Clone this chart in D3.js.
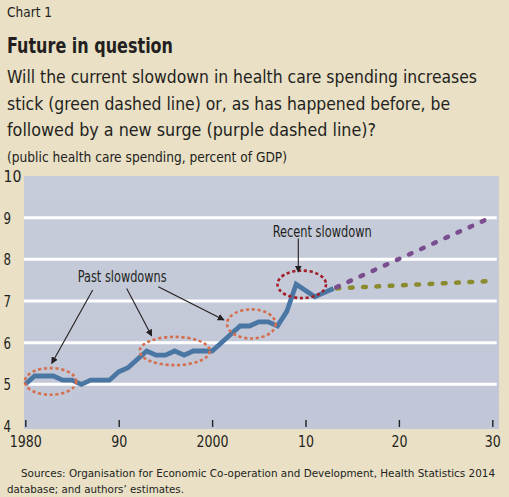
<!DOCTYPE html>
<html>
<head>
<meta charset="utf-8">
<script src="https://cdn.jsdelivr.net/npm/d3@7"></script>
<style>
html,body{margin:0;padding:0;background:#e9e0c6;}
svg{display:block;}
text{font-family:"DejaVu Sans Condensed","DejaVu Sans",sans-serif;font-stretch:condensed;fill:#231f20;}
</style>
</head>
<body>
<svg id="chart" width="509" height="497"></svg>
<script>
// ---- data ----
const years = [1980,1981,1982,1983,1984,1985,1986,1987,1988,1989,1990,1991,1992,1993,1994,1995,1996,1997,1998,1999,2000,2001,2002,2003,2004,2005,2006,2007,2008,2009,2010,2011,2012,2013];
const spending = [5.0,5.2,5.2,5.2,5.1,5.1,5.0,5.1,5.1,5.1,5.3,5.4,5.6,5.8,5.7,5.7,5.8,5.7,5.8,5.8,5.8,6.0,6.2,6.4,6.4,6.5,6.5,6.4,6.75,7.4,7.25,7.1,7.2,7.3];
const projYears = [2013, 2030];
const surge = [7.3, 9.02];
const stick = [7.3, 7.48];
const xTicks = [1980,1990,2000,2010,2020,2030];
const xTickLabels = ["1980","90","2000","10","20","30"];
const yTicks = [4,5,6,7,8,9,10];
// slowdown ellipses: center year, center value, half-width (years), half-height (value units)
const pastEllipses = [
  {cx:1982.7, cy:5.07, rx:2.75, ry:0.32},
  {cx:1996.0, cy:5.8, rx:3.75, ry:0.34},
  {cx:2004.2, cy:6.45, rx:2.6, ry:0.35}
];
const recentEllipse = {cx:2009.6, cy:7.4, rx:2.6, ry:0.33};

const svg = d3.select("#chart");

// text helper: squeeze/stretch to the reference width
function txt(x0, y0, str, size, width, opts={}) {
  const t = svg.append("text").attr("x",x0).attr("y",y0).attr("font-size",size).text(str);
  if (opts.bold) t.attr("font-weight","bold");
  if (opts.anchor) t.attr("text-anchor",opts.anchor);
  if (width) t.attr("textLength",width).attr("lengthAdjust","spacingAndGlyphs");
  return t;
}

// titles
txt(7,17,"Chart 1",14.5,45);
txt(7,52.5,"Future in question",21,166,{bold:true});
const sub = ["Will the current slowdown in health care spending increases",
             "stick (green dashed line) or, as has happened before, be",
             "followed by a new surge (purple dashed line)?"];
const subW = [470,443,369];
sub.forEach((s,i)=>txt(7,83.3+i*26.2,s,17.5,subW[i]));
txt(7,161.5,"(public health care spending, percent of GDP)",13.5,280);

// scales
const x = d3.scaleLinear().domain([1980,2030]).range([25.3,492.3]);
const y = d3.scaleLinear().domain([4,10]).range([426,176]);

// plot background
const defs = svg.append("defs");
const grad = defs.append("linearGradient").attr("id","bg").attr("x1",0).attr("y1",0).attr("x2",0).attr("y2",1);
grad.append("stop").attr("offset","0%").attr("stop-color","#c7ccda");
grad.append("stop").attr("offset","100%").attr("stop-color","#c1c7d7");
svg.append("rect").attr("x",24).attr("y",y(10)).attr("width",499-24).attr("height",429-y(10)).attr("fill","url(#bg)");

// gridlines
svg.append("g").selectAll("line").data(yTicks.filter(d=>d>4&&d<10)).join("line")
  .attr("x1",24).attr("x2",496.7).attr("y1",d=>y(d)).attr("y2",d=>y(d))
  .attr("stroke","#ffffff").attr("stroke-width",3);

// y labels
svg.append("g").selectAll("text").data(yTicks).join("text")
  .attr("x",3.5).attr("y",d=>y(d)+6).attr("font-size",16.5)
  .attr("textLength",d=>d===10?18:7.5).attr("lengthAdjust","spacingAndGlyphs").text(d=>d);

// x axis ticks via d3 axis
const xAxis = d3.axisBottom(x).tickValues(xTicks).tickSize(7).tickFormat((d,i)=>xTickLabels[i]);
const gx = svg.append("g").attr("transform","translate(0,420)").call(xAxis);
gx.select(".domain").remove();
gx.selectAll(".tick line").attr("stroke","#231f20").attr("stroke-width",1.4);
gx.selectAll(".tick text").attr("font-size",16).attr("y",26.5).attr("dy",0)
  .attr("font-family","'DejaVu Sans Condensed','DejaVu Sans',sans-serif").attr("fill","#231f20")
  .attr("textLength",(d,i)=>xTickLabels[i].length*8).attr("lengthAdjust","spacingAndGlyphs");

// ellipses
const ell = (e,color)=>svg.append("ellipse")
  .attr("cx",x(e.cx)).attr("cy",y(e.cy))
  .attr("rx",x(e.cx+e.rx)-x(e.cx)).attr("ry",y(e.cy)-y(e.cy+e.ry))
  .attr("fill","none").attr("stroke",color).attr("stroke-width",2.6)
  .attr("stroke-dasharray","3.2 2.6");

// main line
const line = d3.line().x((d,i)=>x(years[i])).y(d=>y(d));
svg.append("path").attr("d",line(spending)).attr("fill","none")
  .attr("stroke","#4a76a4").attr("stroke-width",4.8).attr("stroke-linejoin","miter");

// projections
const pline = d3.line().x((d,i)=>x(projYears[i])).y(d=>y(d));
svg.append("path").attr("d",pline(stick)).attr("fill","none")
  .attr("stroke","#8a8a2e").attr("stroke-width",4.5).attr("stroke-linecap","round")
  .attr("stroke-dasharray","2.8 10.5").attr("stroke-dashoffset",-3);
svg.append("path").attr("d",pline(surge)).attr("fill","none")
  .attr("stroke","#7a4e8e").attr("stroke-width",4.5).attr("stroke-linecap","round")
  .attr("stroke-dasharray","2.8 10.5").attr("stroke-dashoffset",-3);

pastEllipses.forEach(e=>ell(e,"#d4704f"));
ell(recentEllipse,"#a3202b");

// arrows
const marker = defs.append("marker").attr("id","arr").attr("viewBox","0 0 10 10")
  .attr("refX",9).attr("refY",5).attr("markerWidth",7).attr("markerHeight",7)
  .attr("markerUnits","userSpaceOnUse").attr("orient","auto");
marker.append("path").attr("d","M0,0 L10,5 L0,10 Z").attr("fill","#231f20");

txt(77.7,281.5,"Past slowdowns",16,89);
const arrows = [
  [92.7,290,51.7,363.5],
  [126.7,288.5,151.7,336],
  [158.3,286.7,224,320]
];
arrows.forEach(a=>svg.append("line").attr("x1",a[0]).attr("y1",a[1]).attr("x2",a[2]).attr("y2",a[3])
  .attr("stroke","#231f20").attr("stroke-width",1.1).attr("marker-end","url(#arr)"));

txt(272.7,236.5,"Recent slowdown",16,99);
svg.append("line").attr("x1",298.3).attr("y1",238.5).attr("x2",298.3).attr("y2",272)
  .attr("stroke","#231f20").attr("stroke-width",1.1).attr("marker-end","url(#arr)");

// sources
txt(21,476.5,"Sources: Organisation for Economic Co-operation and Development, Health Statistics 2014",11.2,474);
txt(7,493,"database; and authors’ estimates.",11.2,177);
</script>
</body>
</html>
